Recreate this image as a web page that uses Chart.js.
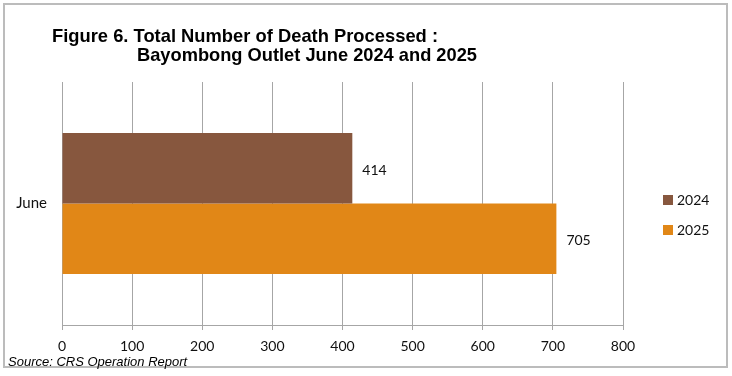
<!DOCTYPE html>
<html>
<head>
<meta charset="utf-8">
<script src="https://cdn.jsdelivr.net/npm/chart.js@4"></script>
<style>
  html, body { margin: 0; padding: 0; background: #fff; }
  #wrap { width: 732px; height: 376px; position: relative; }
</style>
</head>
<body>
<div id="wrap"><canvas id="chart" width="732" height="376"></canvas></div>
<script>
const categorias = ["June"];
const etiquetas = ["2024", "2025"];
const valores2024 = [414];
const valores2025 = [705];
const ticksX = [0, 100, 200, 300, 400, 500, 600, 700, 800];
const colores = ["#87573E", "#E18717"];

const tituloLinea1 = "Figure 6. Total Number of Death Processed :";
const tituloLinea2 = "Bayombong Outlet June 2024 and 2025";
const fuente = "Source: CRS Operation Report";

// marco, titulo, fuente
const marco = {
  id: "marco",
  beforeDraw(chart) {
    const c = chart.ctx;
    c.save();
    c.fillStyle = "#fff";
    c.fillRect(0, 0, chart.width, chart.height);
    c.strokeStyle = "#bcbcbc";
    c.lineWidth = 2;
    c.strokeRect(4, 4, 723, 363);
    c.restore();
  },
  afterDraw(chart) {
    const c = chart.ctx;
    c.save();
    c.fillStyle = "#000";
    c.textBaseline = "middle";
    c.font = "bold 18.4px 'Liberation Sans', Arial, sans-serif";
    c.fillText(tituloLinea1, 52, 37, 386);
    c.fillText(tituloLinea2, 137, 56, 340);
    c.font = "italic 13px 'Liberation Sans', Arial, sans-serif";
    c.fillText(fuente, 8, 362);
    // leyenda
    c.font = "14px Lato, sans-serif";
    chart.data.datasets.forEach((ds, i) => {
      const y = 200 + i * 30;
      c.fillStyle = ds.backgroundColor;
      c.fillRect(663, y - 5, 10, 10);
      c.fillStyle = "#111";
      c.fillText(ds.label, 677, y);
    });
    c.restore();
  }
};

// numeros al final de cada barra
const valoresBarras = {
  id: "valoresBarras",
  afterDatasetsDraw(chart) {
    const c = chart.ctx;
    c.save();
    c.font = "14px Lato, sans-serif";
    c.fillStyle = "#111";
    c.textBaseline = "middle";
    chart.data.datasets.forEach((ds, i) => {
      chart.getDatasetMeta(i).data.forEach((bar, j) => {
        c.fillText(ds.data[j], bar.x + 10, bar.y + 2);
      });
    });
    c.restore();
  }
};

const ctx = document.getElementById("chart").getContext("2d");
const chart = new Chart(ctx, {
  type: "bar",
  data: {
    labels: categorias,
    datasets: [
      { label: etiquetas[0], data: valores2024, backgroundColor: colores[0] },
      { label: etiquetas[1], data: valores2025, backgroundColor: colores[1] }
    ]
  },
  options: {
    indexAxis: "y",
    responsive: false,
    animation: false,
    layout: { padding: { left: 0, top: 82, right: 109, bottom: 11 } },
    categoryPercentage: 0.58,
    barPercentage: 1,
    plugins: { legend: { display: false }, tooltip: { enabled: false } },
    scales: {
      x: {
        min: 0,
        max: 800,
        afterFit: s => { s.height = 40; },
        afterBuildTicks: s => { s.ticks = ticksX.map(v => ({ value: v })); },
        grid: { color: "#a6a6a6", tickLength: 5, lineWidth: 1 },
        border: { color: "#a6a6a6" },
        ticks: { color: "#111", font: { family: "Lato", size: 14 }, padding: 8 }
      },
      y: {
        afterFit: s => { s.width = 62; },
        grid: { display: false, drawTicks: false },
        border: { color: "#a6a6a6" },
        ticks: { color: "#111", font: { family: "Lato", size: 15 }, padding: 15 }
      }
    }
  },
  plugins: [marco, valoresBarras]
});
</script>
</body>
</html>
